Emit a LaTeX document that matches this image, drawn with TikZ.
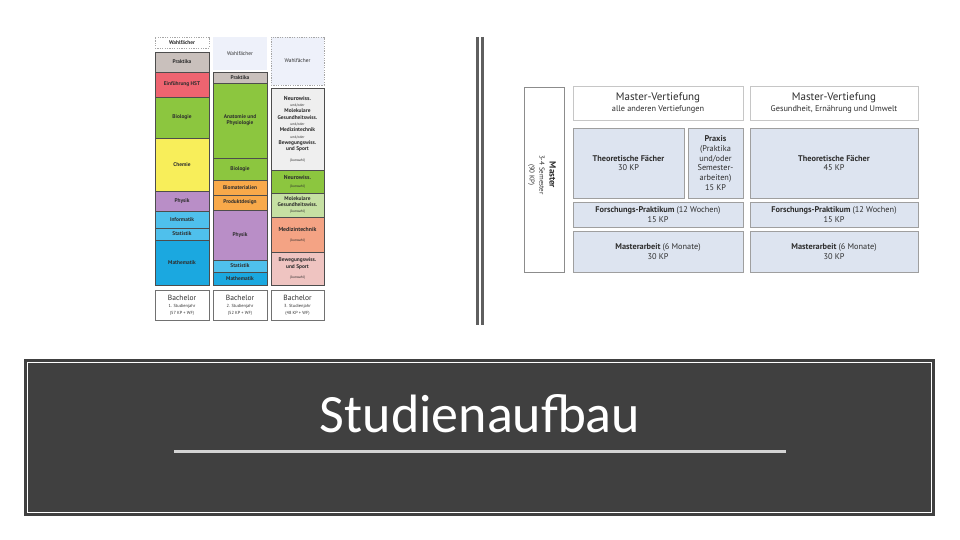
\documentclass[tikz,border=0pt]{standalone}
\usepackage{fontspec}
\setmainfont{PT Sans}
\newfontfamily\titlefont{Carlito}
\definecolor{lineC}{HTML}{4D4D4D}
\definecolor{txt}{HTML}{2E2E2E}
\definecolor{grayP}{HTML}{C9C0BC}
\definecolor{redE}{HTML}{EE6470}
\definecolor{greenB}{HTML}{8CC63F}
\definecolor{yellowC}{HTML}{F8EE5A}
\definecolor{purpleP}{HTML}{B98EC7}
\definecolor{cyanL}{HTML}{4FC0EC}
\definecolor{cyanD}{HTML}{1BA8E0}
\definecolor{orangeO}{HTML}{F8A94A}
\definecolor{paleW}{HTML}{EEF1FA}
\definecolor{grayN}{HTML}{EFEFEF}
\definecolor{greenL}{HTML}{C6E0A3}
\definecolor{salmon}{HTML}{F4A384}
\definecolor{pinkB}{HTML}{EFC4C1}
\definecolor{blueM}{HTML}{DDE4F0}
\definecolor{bandC}{HTML}{404040}
\definecolor{ruleC}{HTML}{D4D4D4}
\tikzset{
  cell/.style={draw=lineC, line width=0.6pt, inner sep=0pt, outer sep=0pt, align=center, text=txt,
    font=\fontsize{5.4}{6.3}\selectfont\bfseries},
  dashcell/.style={draw=gray!70, dashed, dash pattern=on 1.2pt off 1.2pt, line width=0.5pt},
  nob/.style={draw=none},
  bach/.style={draw=lineC!80, fill=white, font=\fontsize{7.5}{8.2}\selectfont},
  mcell/.style={draw=gray!75, line width=0.6pt, fill=blueM, font=\fontsize{8.3}{9.8}\selectfont\bfseries},
  vcell/.style={draw=gray!45, line width=0.6pt, fill=white, font=\fontsize{11}{12}\selectfont},
  divline/.style={draw=lineC!90, line width=3pt},
}
\newcommand\cell[7]{\node[cell,#6,anchor=north west,minimum width={#4pt-#2pt},minimum height={#5pt-#3pt}] (#1) at (#2,#3) {#7};}
\newcommand\tinytxt{\fontsize{3.6}{4.6}\selectfont\mdseries}
\newcommand\subtxt{\fontsize{4.4}{5.4}\selectfont\mdseries}
\begin{document}
\begin{tikzpicture}[x=1pt,y=-1pt]
\useasboundingbox (0,0) rectangle (960,540);
\fill[white] (0,0) rectangle (960,540);
% ---- column 1
\cell{wfa}{155}{37}{209}{48}{dashcell,fill=white}{Wahlfächer}
\cell{pra}{155}{52}{209}{72}{fill=grayP}{Praktika}
\cell{ein}{155}{72}{209}{97}{fill=redE}{Einführung HST}
\cell{bioa}{155}{97}{209}{138}{fill=greenB}{Biologie}
\cell{che}{155}{138}{209}{191}{fill=yellowC}{Chemie}
\cell{phya}{155}{191}{209}{211}{fill=purpleP}{Physik}
\cell{inf}{155}{211}{209}{228}{fill=cyanL}{Informatik}
\cell{staa}{155}{228}{209}{240}{fill=cyanL}{Statistik}
\cell{mata}{155}{240}{209}{285}{fill=cyanD}{Mathematik}
\cell{baa}{155}{290}{209}{320}{bach}{Bachelor\\[-1pt]\subtxt 1. Studienjahr\\[-1.5pt]\subtxt (57 KP + WF)}
% ---- column 2
\cell{wfb}{213}{37}{267}{70}{nob,fill=paleW}{\mdseries Wahlfächer}
\cell{prb}{213}{72}{267}{83}{fill=grayP}{Praktika}
\cell{ana}{213}{83}{267}{158}{fill=greenB}{Anatomie und\\Physiologie}
\cell{biob}{213}{158}{267}{180}{fill=greenB}{Biologie}
\cell{biom}{213}{180}{267}{195}{fill=orangeO}{Biomaterialien}
\cell{prod}{213}{195}{267}{210}{fill=orangeO}{Produktdesign}
\cell{phyb}{213}{210}{267}{260}{fill=purpleP}{Physik}
\cell{stab}{213}{260}{267}{272}{fill=cyanL}{Statistik}
\cell{matb}{213}{272}{267}{285}{fill=cyanD}{Mathematik}
\cell{bab}{213}{290}{267}{320}{bach}{Bachelor\\[-1pt]\subtxt 2. Studienjahr\\[-1.5pt]\subtxt (52 KP + WF)}
% ---- column 3
\cell{wfc}{271}{37}{324}{85}{dashcell,fill=paleW}{\mdseries Wahlfächer}
\cell{neu}{271}{88}{324}{170}{fill=grayN}{\fontsize{5.8}{6.8}\selectfont Neurowiss.\\\tinytxt und/oder\\Molekulare\\Gesundheitswiss.\\\tinytxt und/oder\\Medizintechnik\\\tinytxt und/oder\\Bewegungswiss.\\und Sport\\[4pt]\tinytxt (Auswahl)}
\cell{neub}{271}{170}{324}{193}{fill=greenB}{\fontsize{5.8}{6.8}\selectfont Neurowiss.\\[2pt]\tinytxt (Auswahl)}
\cell{mol}{271}{193}{324}{217}{fill=greenL}{Molekulare\\Gesundheitswiss.\\\tinytxt (Auswahl)}
\cell{med}{271}{217}{324}{252}{fill=salmon}{\fontsize{5.8}{6.8}\selectfont Medizintechnik\\[4pt]\tinytxt (Auswahl)}
\cell{bew}{271}{252}{324}{285}{fill=pinkB}{Bewegungswiss.\\und Sport\\[4pt]\tinytxt (Auswahl)}
\cell{bac}{271}{290}{324}{320}{bach}{Bachelor\\[-1pt]\subtxt 3. Studienjahr\\[-1.5pt]\subtxt (48 KP + WF)}
% ---- divider
\coordinate (d1t) at (477,37); \coordinate (d1b) at (477,325);
\coordinate (d2t) at (482,37); \coordinate (d2b) at (482,325);
\draw[divline] (d1t) -- (d1b);
\draw[divline] (d2t) -- (d2b);
% ---- master chart
\cell{mas}{524}{87}{564}{272}{draw=gray!90,fill=white}{}
\node[rotate=-90, align=center, text=txt, font=\fontsize{7}{10}\selectfont, inner sep=0pt] (mtxt) at (542,175)
  {{\fontsize{9}{10}\selectfont\bfseries Master}\\3-4 Semester\\(90 KP)};
\cell{mva}{573}{86}{743}{120}{vcell}{\mdseries Master-Vertiefung\\[-0.5pt]\fontsize{8.3}{9}\selectfont\mdseries alle anderen Vertiefungen}
\cell{tha}{573}{128}{684}{198}{mcell}{Theoretische Fächer\\\mdseries 30 KP}
\cell{prx}{688}{128}{743}{198}{mcell}{Praxis\\\mdseries (Praktika\\\mdseries und/oder\\\mdseries Semester-\\\mdseries arbeiten)\\\mdseries 15 KP}
\cell{fpa}{573}{202}{743}{227}{mcell}{Forschungs-Praktikum \mdseries(12 Wochen)\\\mdseries 15 KP}
\cell{maa}{573}{231}{743}{272}{mcell}{Masterarbeit \mdseries(6 Monate)\\\mdseries 30 KP}
\cell{mvb}{750}{86}{918}{120}{vcell}{\mdseries Master-Vertiefung\\[-0.5pt]\fontsize{8.3}{9}\selectfont\mdseries Gesundheit, Ernährung und Umwelt}
\cell{thb}{750}{128}{918}{198}{mcell}{Theoretische Fächer\\\mdseries 45 KP}
\cell{fpb}{750}{202}{918}{227}{mcell}{Forschungs-Praktikum \mdseries(12 Wochen)\\\mdseries 15 KP}
\cell{mab}{750}{231}{918}{272}{mcell}{Masterarbeit \mdseries(6 Monate)\\\mdseries 30 KP}
% ---- title band
\fill[bandC] (24,359) rectangle (935,516);
\draw[white, line width=1pt] (27.5,362.5) rectangle (931.5,512.5);
\node[anchor=base, text=white, font=\titlefont\fontsize{54}{60}\selectfont, inner sep=0pt] (title) at (480,432) {Studienaufbau};
\coordinate (rl) at (174,451); \coordinate (rr) at (786,451);
\draw[ruleC, line width=3pt] (rl) -- (rr);
\end{tikzpicture}
\end{document}
